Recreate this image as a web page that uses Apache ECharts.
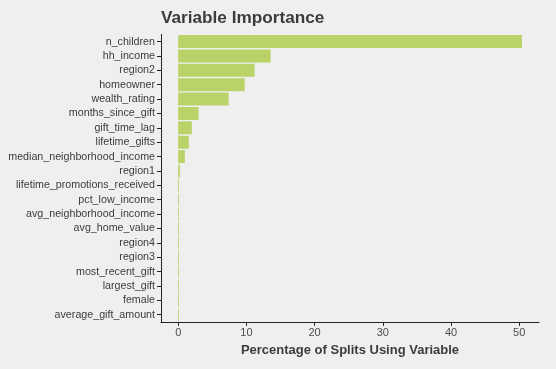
<!DOCTYPE html>
<html><head><meta charset="utf-8">
<script src="https://cdn.jsdelivr.net/npm/echarts@6/dist/echarts.min.js"></script>
<style>html,body{margin:0;padding:0;background:#efefef;}#c{width:556px;height:369px;}</style>
</head><body><div id="c"></div>
<script>
const categories = ["n_children","hh_income","region2","homeowner","wealth_rating","months_since_gift","gift_time_lag","lifetime_gifts","median_neighborhood_income","region1","lifetime_promotions_received","pct_low_income","avg_neighborhood_income","avg_home_value","region4","region3","most_recent_gift","largest_gift","female","average_gift_amount"];
const values = [50.4,13.55,11.2,9.75,7.4,3.0,2.0,1.56,0.98,0.25,0.12,0.12,0.12,0.12,0.12,0.12,0.12,0.12,0.12,0.12];
const xTicks = [0,10,20,30,40,50];
const title = "Variable Importance";
const xTitle = "Percentage of Splits Using Variable";

const chart = echarts.init(document.getElementById('c'));
const font = "'Liberation Sans', Arial, sans-serif";
chart.setOption({
  backgroundColor: '#efefef',
  animation: false,
  title: {text: title, left: 156, top: 5, textStyle: {fontFamily: font, fontSize: 17.2, fontWeight: 'bold', color: '#3c3c3c'}},
  grid: {left: 161, right: 17, top: 34.4, height: 287.5},
  xAxis: {
    type: 'value', min: -2.52, max: 52.9, interval: 10,
    name: xTitle, nameLocation: 'middle', nameGap: 20,
    nameTextStyle: {fontFamily: font, fontSize: 13, fontWeight: 'bold', color: '#3c3c3c'},
    axisLine: {show: true, onZero: false, lineStyle: {color: '#222', width: 1}},
    axisTick: {show: true, length: 4, lineStyle: {color: '#222'}, customValues: xTicks},
    axisLabel: {fontFamily: font, fontSize: 11, color: '#4d4d4d', margin: 6, customValues: xTicks},
    splitLine: {show: false}
  },
  yAxis: {
    type: 'category', data: categories, inverse: true,
    axisLine: {show: true, onZero: false, lineStyle: {color: '#222', width: 1}},
    axisTick: {show: true, length: 4, alignWithLabel: true, lineStyle: {color: '#222'}},
    axisLabel: {fontFamily: font, fontSize: 10.7, color: '#3c3c3c', margin: 6},
    splitLine: {show: false}
  },
  series: [{
    type: 'bar', data: values, barCategoryGap: '10%',
    itemStyle: {color: '#b9d368'}
  }]
});
</script></body></html>
